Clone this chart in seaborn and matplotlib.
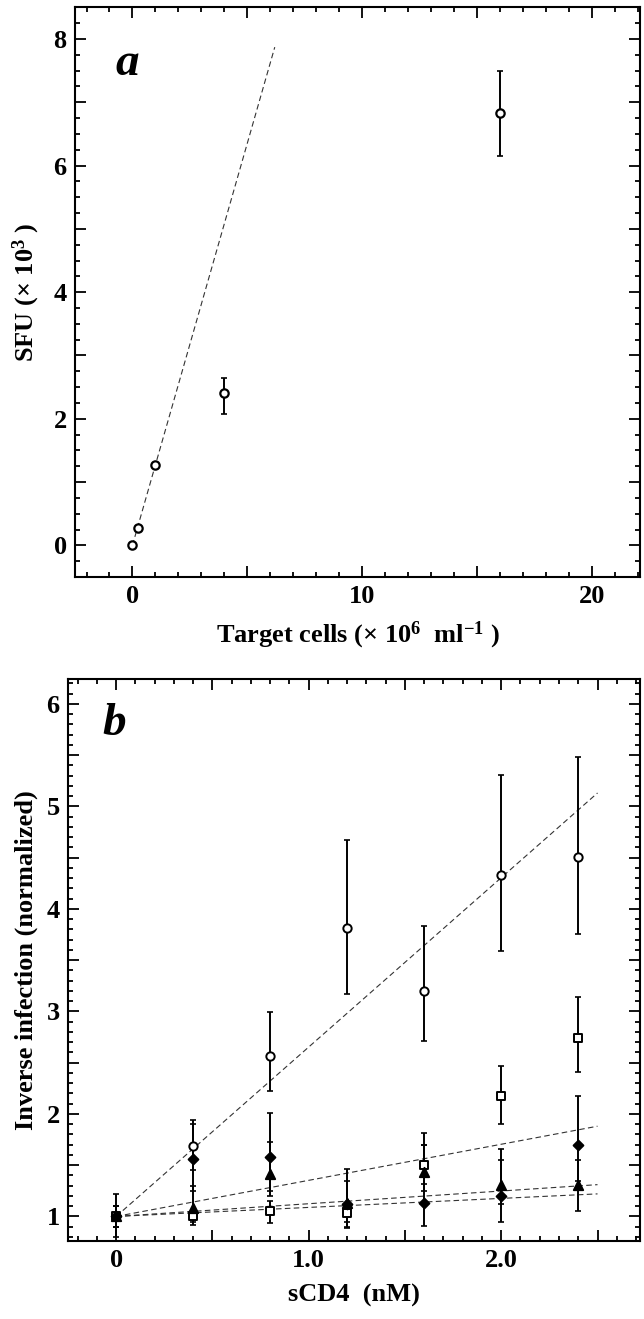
import numpy as np
import pandas as pd
import matplotlib
matplotlib.use('Agg')
import matplotlib.pyplot as plt
import seaborn as sns
from matplotlib.ticker import MultipleLocator, FuncFormatter

# panel a: SFU vs target cell density
cells = [0, 0.25, 1, 4, 16]
sfu = [0, 0.27, 1.27, 2.40, 6.83]
sfu_lo = [0, 0.27, 1.27, 2.07, 6.15]
sfu_hi = [0, 0.27, 1.27, 2.65, 7.50]
fit_a_x = [0, 6.2]
fit_a_y = [0, 7.87]

# panel b: inverse infection vs sCD4
scd4 = [0, 0.4, 0.8, 1.2, 1.6, 2.0, 2.4]
circ = [1.0, 1.69, 2.56, 3.81, 3.20, 4.33, 4.51]
circ_lo = [0.80, 1.45, 2.22, 3.17, 2.71, 3.59, 3.75]
circ_hi = [1.22, 1.94, 2.99, 4.67, 3.83, 5.31, 5.48]
squa = [1.0, 1.00, 1.05, 1.03, 1.50, 2.17, 2.74]
squa_lo = [0.90, 0.92, 0.94, 0.89, 1.32, 1.90, 2.41]
squa_hi = [1.10, 1.05, 1.15, 1.10, 1.70, 2.47, 3.14]
tria = [1.0, 1.08, 1.41, 1.13, 1.43, 1.31, 1.31]
tria_lo = [0.90, 0.95, 1.20, 0.95, 1.25, 1.12, 1.05]
tria_hi = [1.10, 1.30, 1.73, 1.35, 1.70, 1.55, 1.55]
diam = [1.0, 1.56, 1.58, 1.12, 1.13, 1.20, 1.70]
diam_lo = [0.90, 1.25, 1.25, 0.90, 0.91, 0.95, 1.35]
diam_hi = [1.10, 1.90, 2.01, 1.46, 1.81, 1.66, 2.17]
fit_b_x = [0, 2.5]
fit_b_end = [5.13, 1.88, 1.31, 1.22]

sns.set_theme(style='ticks')
plt.rcParams['font.family'] = ['Liberation Serif', 'DejaVu Serif']
plt.rcParams['font.weight'] = 'bold'
plt.rcParams['mathtext.default'] = 'regular'
plt.rcParams['axes.linewidth'] = 1.5
plt.rcParams['text.color'] = 'black'
plt.rcParams['axes.labelcolor'] = 'black'

FS = 19

def style_ticks(ax):
    ax.tick_params(which='both', direction='in', top=True, right=True, width=1.3,
                   labelsize=FS, colors='black', pad=6)
    ax.tick_params(which='major', length=8)
    ax.tick_params(which='minor', length=3.5)
    for s in ax.spines.values():
        s.set_color('black')

fig = plt.figure(figsize=(6.44, 13.19), dpi=100)

# ---- panel a
ax1 = fig.add_axes([0.1165, 0.5625, 0.877, 0.432])
dfa = pd.DataFrame({'cells': cells, 'sfu': sfu})
sns.lineplot(x=fit_a_x, y=fit_a_y, ax=ax1, color='#333333', lw=0.8, dashes=(5, 3))
err_a = [np.array(sfu) - np.array(sfu_lo), np.array(sfu_hi) - np.array(sfu)]
ax1.errorbar(cells, sfu, yerr=err_a, fmt='none', ecolor='black', elinewidth=1.4,
             capsize=2, capthick=1.2, zorder=3)
sns.scatterplot(data=dfa, x='cells', y='sfu', ax=ax1, marker='o', s=36,
                facecolor='white', edgecolor='black', linewidth=1.6, zorder=4)
ax1.set_xlim(-2.5, 22.1)
ax1.set_ylim(-0.5, 8.5)
ax1.xaxis.set_major_locator(MultipleLocator(5))
ax1.xaxis.set_minor_locator(MultipleLocator(1))
ax1.xaxis.set_major_formatter(FuncFormatter(lambda v, p: '%d' % v if round(v) % 10 == 0 else ''))
ax1.yaxis.set_major_locator(MultipleLocator(1))
ax1.yaxis.set_minor_locator(MultipleLocator(0.25))
ax1.yaxis.set_major_formatter(FuncFormatter(lambda v, p: '%d' % v if round(v) % 2 == 0 else ''))
style_ticks(ax1)
ax1.set_xlabel('Target cells (× 10$^{6}$  ml$^{-1}$ )', fontsize=FS, fontweight='bold', labelpad=8)
ax1.set_ylabel('SFU (× 10$^{3}$ )', fontsize=FS, fontweight='bold', labelpad=8)
ax1.text(0.092, 0.90, 'a', transform=ax1.transAxes, fontsize=34, fontweight='bold',
         fontstyle='italic', va='center', ha='center')

# ---- panel b
ax2 = fig.add_axes([0.1056, 0.0591, 0.888, 0.426])
series = [('circle', circ, circ_lo, circ_hi, 'o', 'white', 36),
          ('square', squa, squa_lo, squa_hi, 's', 'white', 36),
          ('triangle', tria, tria_lo, tria_hi, '^', 'black', 45),
          ('diamond', diam, diam_lo, diam_hi, 'D', 'black', 25)]
rows = []
for name, v, lo, hi, m, fc, sz in series:
    for x, yv, l, h in zip(scd4, v, lo, hi):
        rows.append({'sCD4': x, 'value': yv, 'lo': l, 'hi': h, 'series': name})
dfb = pd.DataFrame(rows)

for end in fit_b_end:
    sns.lineplot(x=fit_b_x, y=[1.0, end], ax=ax2, color='#333333', lw=0.8, dashes=(5, 3))

for name, v, lo, hi, m, fc, sz in series:
    d = dfb[dfb['series'] == name]
    ax2.errorbar(d['sCD4'], d['value'], yerr=[d['value'] - d['lo'], d['hi'] - d['value']],
                 fmt='none', ecolor='black', elinewidth=1.4, capsize=2, capthick=1.2, zorder=3)
for name, v, lo, hi, m, fc, sz in series:
    d = dfb[dfb['series'] == name]
    sns.scatterplot(data=d, x='sCD4', y='value', ax=ax2, marker=m, s=sz,
                    facecolor=fc, edgecolor='black', linewidth=1.4, zorder=4)

ax2.set_xlim(-0.25, 2.72)
ax2.set_ylim(0.76, 6.24)
ax2.xaxis.set_major_locator(MultipleLocator(0.5))
ax2.xaxis.set_minor_locator(MultipleLocator(0.1))
ax2.xaxis.set_major_formatter(FuncFormatter(
    lambda v, p: ('0' if abs(v) < 1e-6 else '%.1f' % v) if abs(v - round(v)) < 1e-6 and v < 2.6 else ''))
ax2.yaxis.set_major_locator(MultipleLocator(0.5))
ax2.yaxis.set_minor_locator(MultipleLocator(0.1))
ax2.yaxis.set_major_formatter(FuncFormatter(lambda v, p: '%d' % round(v) if abs(v - round(v)) < 1e-6 else ''))
style_ticks(ax2)
ax2.set_xlabel('sCD4  (nM)', fontsize=FS, fontweight='bold', labelpad=8)
ax2.set_ylabel('Inverse infection (normalized)', fontsize=FS, fontweight='bold', labelpad=6)
ax2.text(0.08, 0.92, 'b', transform=ax2.transAxes, fontsize=34, fontweight='bold',
         fontstyle='italic', va='center', ha='center')

fig.savefig('out.png', dpi=100)
